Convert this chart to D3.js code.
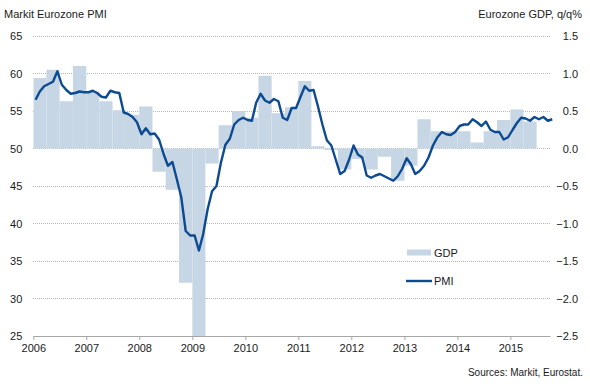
<!DOCTYPE html>
<html><head><meta charset="utf-8">
<script src="https://cdn.jsdelivr.net/npm/d3@7"></script>
<style>
body{margin:0;background:#fff}
text{font-family:"Liberation Sans",Arial,sans-serif;fill:#1a1a1a}
</style>
</head><body>
<svg id="c" width="590" height="386"></svg>
<script>
// ---------- DATA ----------
const gdpQuarters = [
 "2006Q1","2006Q2","2006Q3","2006Q4","2007Q1","2007Q2","2007Q3","2007Q4",
 "2008Q1","2008Q2","2008Q3","2008Q4","2009Q1","2009Q2","2009Q3","2009Q4",
 "2010Q1","2010Q2","2010Q3","2010Q4","2011Q1","2011Q2","2011Q3","2011Q4",
 "2012Q1","2012Q2","2012Q3","2012Q4","2013Q1","2013Q2","2013Q3","2013Q4",
 "2014Q1","2014Q2","2014Q3","2014Q4","2015Q1","2015Q2"];
const gdpValues = [
 0.94, 1.05, 0.63, 1.10, 0.76, 0.63, 0.51, 0.45,
 0.56, -0.31, -0.55, -1.79, -2.90, -0.20, 0.31, 0.50,
 0.41, 0.97, 0.47, 0.55, 0.90, 0.03, -0.02, -0.28,
 -0.14, -0.28, -0.11, -0.43, -0.23, 0.39, 0.23, 0.23,
 0.23, 0.08, 0.23, 0.38, 0.52, 0.36];
const pmiFirstMonth = "2006-01";
const pmiValues = [
 56.5, 57.6, 58.3, 58.6, 58.9, 60.3, 58.5, 57.8, 57.3, 57.4, 57.6, 57.5,
 57.5, 57.7, 57.4, 56.9, 56.8, 57.7, 57.5, 57.4, 54.8, 54.6, 54.2, 53.5,
 51.9, 52.7, 51.9, 52.0, 51.2, 49.3, 47.7, 48.2, 45.9, 43.5, 39.0, 38.4,
 38.4, 36.4, 38.6, 41.9, 44.3, 45.0, 48.1, 50.5, 51.3, 53.2, 53.8, 54.1,
 53.8, 53.7, 56.1, 57.3, 56.4, 56.1, 56.6, 56.3, 54.1, 53.8, 55.4, 55.4,
 56.9, 58.3, 57.7, 57.8, 55.6, 53.2, 51.1, 50.4, 48.5, 46.6, 47.0, 48.5,
 50.4, 49.2, 48.8, 46.4, 46.1, 46.4, 46.6, 46.3, 46.0, 45.7, 46.3, 47.3,
 48.7, 47.9, 46.6, 47.0, 47.7, 48.8, 50.4, 51.5, 52.2, 51.9, 51.8, 52.2,
 53.0, 53.2, 53.2, 53.9, 53.5, 53.0, 53.6, 52.5, 52.2, 52.2, 51.2, 51.5,
 52.5, 53.4, 54.1, 54.0, 53.7, 54.2, 53.9, 54.2, 53.7, 53.9];
const pmiTicks = [25, 30, 35, 40, 45, 50, 55, 60, 65];
const gdpTicks = [-2.5, -2.0, -1.5, -1.0, -0.5, 0.0, 0.5, 1.0, 1.5];
const yearTicks = [2006, 2007, 2008, 2009, 2010, 2011, 2012, 2013, 2014, 2015];
const titleLeft = "Markit Eurozone PMI";
const titleRight = "Eurozone GDP, q/q%";
const sourceText = "Sources: Markit, Eurostat.";
const legendLabels = ["GDP", "PMI"];

// ---------- LAYOUT ----------
const L = 33.3, R = 550, T = 36, B = 336;
const barColor = "#c6d6e4", lineColor = "#0c4a92";
const svg = d3.select("#c");

const x = d3.scaleTime().domain([new Date(2006,0,1), new Date(2015,9,1)]).range([L, R]);
const y = d3.scaleLinear().domain([25, 65]).range([B, T]);
const y2 = d3.scaleLinear().domain([-2.5, 1.5]).range([B, T]);

const parseQ = q => { const yr = +q.slice(0,4), k = +q.slice(5); return [new Date(yr,(k-1)*3,1), new Date(yr,k*3,1)]; };
const m0 = d3.timeParse("%Y-%m")(pmiFirstMonth);
const pmiData = pmiValues.map((v,i) => {
  const s = d3.timeMonth.offset(m0, i), e = d3.timeMonth.offset(m0, i+1);
  return {d: new Date((+s + +e)/2), v};
});

// gridlines
svg.append("g").selectAll("line").data(pmiTicks.filter(t => t > 25)).join("line")
  .attr("x1", L).attr("x2", R).attr("y1", d => y(d)).attr("y2", d => y(d))
  .attr("stroke", "#b8b8b8").attr("stroke-width", 1).attr("stroke-dasharray", "1,1")
  .attr("shape-rendering", "crispEdges");

// clip
svg.append("clipPath").attr("id","clip").append("rect")
  .attr("x", L).attr("y", T).attr("width", R-L).attr("height", B-T);

// bars
svg.append("g").attr("clip-path","url(#clip)").selectAll("rect")
  .data(gdpQuarters.map((q,i) => ({r: parseQ(q), v: gdpValues[i]}))).join("rect")
  .attr("x", d => x(d.r[0])).attr("width", d => x(d.r[1]) - x(d.r[0]))
  .attr("y", d => y2(Math.max(0, d.v))).attr("height", d => Math.abs(y2(d.v) - y2(0)))
  .attr("fill", barColor);

// PMI line
svg.append("path").datum(pmiData)
  .attr("d", d3.line().x(d => x(d.d)).y(d => y(d.v)))
  .attr("fill", "none").attr("stroke", lineColor).attr("stroke-width", 2.4)
  .attr("stroke-linejoin", "round");

// x axis
const xa = svg.append("g").attr("transform", `translate(0,${B})`)
  .call(d3.axisBottom(x).tickValues(yearTicks.map(yr => new Date(yr,0,1)))
    .tickFormat(d3.timeFormat("%Y")).tickSizeInner(4).tickSizeOuter(0).tickPadding(4));
xa.select(".domain").attr("stroke", "#a6a6a6");
xa.selectAll(".tick line").attr("stroke", "#a6a6a6");
xa.selectAll(".tick text").attr("font-size", 11).attr("font-family", "Liberation Sans, Arial, sans-serif").attr("fill", "#1a1a1a");

// left axis
const ya = svg.append("g").attr("transform", `translate(${L},0)`)
  .call(d3.axisLeft(y).tickValues(pmiTicks).tickSize(0).tickPadding(11));
ya.select(".domain").remove();
ya.selectAll(".tick text").attr("font-size", 11).attr("font-family", "Liberation Sans, Arial, sans-serif").attr("fill", "#1a1a1a");

// right axis
const fmt = d3.format(".1f");
const ya2 = svg.append("g").attr("transform", `translate(578,0)`)
  .call(d3.axisLeft(y2).tickValues(gdpTicks).tickSize(0).tickPadding(0).tickFormat(fmt));
ya2.select(".domain").remove();
ya2.selectAll(".tick text").attr("font-size", 11).attr("font-family", "Liberation Sans, Arial, sans-serif").attr("fill", "#1a1a1a");

// titles
svg.append("text").attr("x", 4).attr("y", 18).attr("font-size", 11).text(titleLeft);
svg.append("text").attr("x", 582).attr("y", 18).attr("font-size", 11).attr("text-anchor","end").text(titleRight);
svg.append("text").attr("x", 583).attr("y", 376).attr("font-size", 10).attr("text-anchor","end").text(sourceText);

// legend
const lg = svg.append("g");
lg.append("rect").attr("x", 407).attr("y", 249.5).attr("width", 24).attr("height", 6).attr("fill", barColor);
lg.append("text").attr("x", 434).attr("y", 256.5).attr("font-size", 11).text(legendLabels[0]);
lg.append("line").attr("x1", 406).attr("x2", 432).attr("y1", 281).attr("y2", 281)
  .attr("stroke", lineColor).attr("stroke-width", 2.4);
lg.append("text").attr("x", 434).attr("y", 285).attr("font-size", 11).text(legendLabels[1]);
</script>
</body></html>
